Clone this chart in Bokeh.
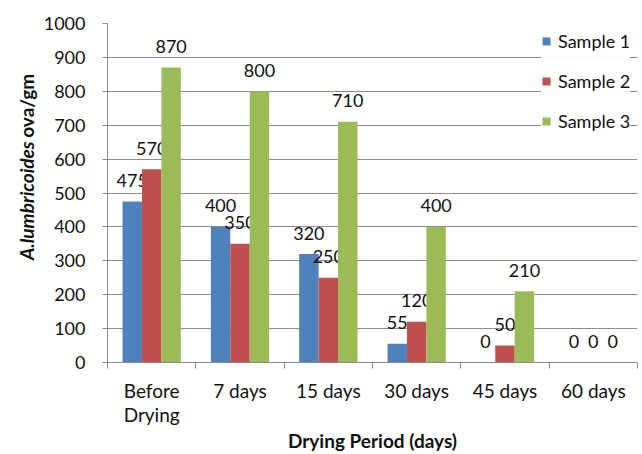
import numpy as np
from bokeh.plotting import figure
from bokeh.layouts import row
from bokeh.models import FixedTicker, Legend, LegendItem, ColumnDataSource
from bokeh.core.properties import value
from bokeh.embed import file_html
from bokeh.resources import INLINE

# Egg counts per drying period for each sample
periods = ["Before\nDrying", "7 days", "15 days", "30 days", "45 days", "60 days"]
sample1 = [475, 400, 320, 55, 0, 0]
sample2 = [570, 350, 250, 120, 50, 0]
sample3 = [870, 800, 710, 400, 210, 0]
series_names = ["Sample 1", "Sample 2", "Sample 3"]
series_colors = ["#4F81BD", "#C0504D", "#9BBB59"]
y_ticks = list(range(0, 1001, 100))
y_title_parts = ["A.lumbricoides", "ova/gm"]

FONT = "Lato"
FS = "18px"
FS_TXT = "19px"
GRID = "#8c8c8c"
INK = "#111111"
H = 454
TITLE_W = 40

n = len(periods)
centers = np.arange(n) + 0.5
bar_w = 0.22
offsets = [-bar_w, 0.0, bar_w]

p = figure(width=642 - TITLE_W, height=H, x_range=(0, n), y_range=(0, 1000),
           output_backend="svg", toolbar_location=None,
           min_border_left=105 - TITLE_W, min_border_right=5,
           min_border_top=23, min_border_bottom=88)
p.outline_line_color = None
p.background_fill_color = "white"
p.border_fill_color = "white"

renderers = []
for vals, name, col, off in zip([sample1, sample2, sample3], series_names, series_colors, offsets):
    src = ColumnDataSource(dict(x=centers + off, top=vals, lab=[str(v) for v in vals]))
    r = p.vbar(x="x", top="top", width=bar_w, source=src, fill_color=col, line_color=None)
    renderers.append((name, r))
    p.text(x="x", y="top", text="lab", source=src, text_align="center",
           text_baseline="alphabetic", y_offset=-21, text_font=value(FONT),
           text_font_size=FS, text_color=INK)

# y axis
p.yaxis.ticker = FixedTicker(ticks=y_ticks)
p.yaxis.major_tick_out = 5
p.yaxis.major_tick_in = 0
p.yaxis.minor_tick_line_color = None
p.yaxis.axis_line_color = GRID
p.yaxis.major_tick_line_color = GRID
p.yaxis.major_label_text_font = FONT
p.yaxis.major_label_text_font_size = FS
p.yaxis.major_label_text_color = INK
p.yaxis.major_label_standoff = 17
p.yaxis.axis_label = None
p.ygrid.grid_line_color = GRID
p.ygrid.ticker = FixedTicker(ticks=y_ticks)

# x axis: labels at group centres, tick marks between groups
p.xaxis.ticker = FixedTicker(ticks=list(centers), minor_ticks=list(range(n + 1)))
p.xaxis.major_label_overrides = {float(c): lab for c, lab in zip(centers, periods)}
p.xaxis.major_tick_out = 0
p.xaxis.major_tick_in = 0
p.xaxis.major_tick_line_color = None
p.xaxis.minor_tick_out = 6
p.xaxis.minor_tick_in = 0
p.xaxis.minor_tick_line_color = GRID
p.xaxis.axis_line_color = GRID
p.xaxis.major_label_text_font = FONT
p.xaxis.major_label_text_font_size = FS_TXT
p.xaxis.major_label_text_color = INK
p.xaxis.major_label_text_line_height = 1.05
p.xaxis.major_label_standoff = 10
p.xaxis.axis_label = "Drying Period (days)"
p.xaxis.axis_label_text_font = FONT
p.xaxis.axis_label_text_font_size = FS_TXT
p.xaxis.axis_label_text_font_style = "bold"
p.xaxis.axis_label_text_color = INK
p.xaxis.axis_label_standoff = 0
p.xgrid.grid_line_color = None

legend = Legend(items=[LegendItem(label=nm, renderers=[r]) for nm, r in renderers],
                location=(434, 230), background_fill_color="white", border_line_color=None,
                glyph_width=10, glyph_height=10, label_height=20, spacing=18, padding=4,
                label_standoff=7, label_text_font=FONT, label_text_font_size=FS,
                label_text_color=INK, margin=0)
p.add_layout(legend)

# narrow strip holding the rotated y-axis title (italic species name, upright unit);
# y runs upward from the bottom of the strip, in pixels
t = figure(width=TITLE_W, height=H, x_range=(0, TITLE_W), y_range=(0, H),
           output_backend="svg", toolbar_location=None, min_border=0)
t.axis.visible = False
t.grid.grid_line_color = None
t.outline_line_color = None
t.border_fill_color = "white"
t.background_fill_color = "white"
t.text(x=[26], y=[H - 158], text=[y_title_parts[0]], angle=np.pi / 2, text_align="right",
       text_baseline="middle", text_font=value(FONT), text_font_size=FS_TXT,
       text_font_style="bold italic", text_color=INK)
t.text(x=[26], y=[H - 153], text=[y_title_parts[1]], angle=np.pi / 2, text_align="left",
       text_baseline="middle", text_font=value(FONT), text_font_size=FS_TXT,
       text_font_style="bold", text_color=INK)

layout = row(t, p, spacing=0)
open("out.html", "w").write(file_html(layout, INLINE))
